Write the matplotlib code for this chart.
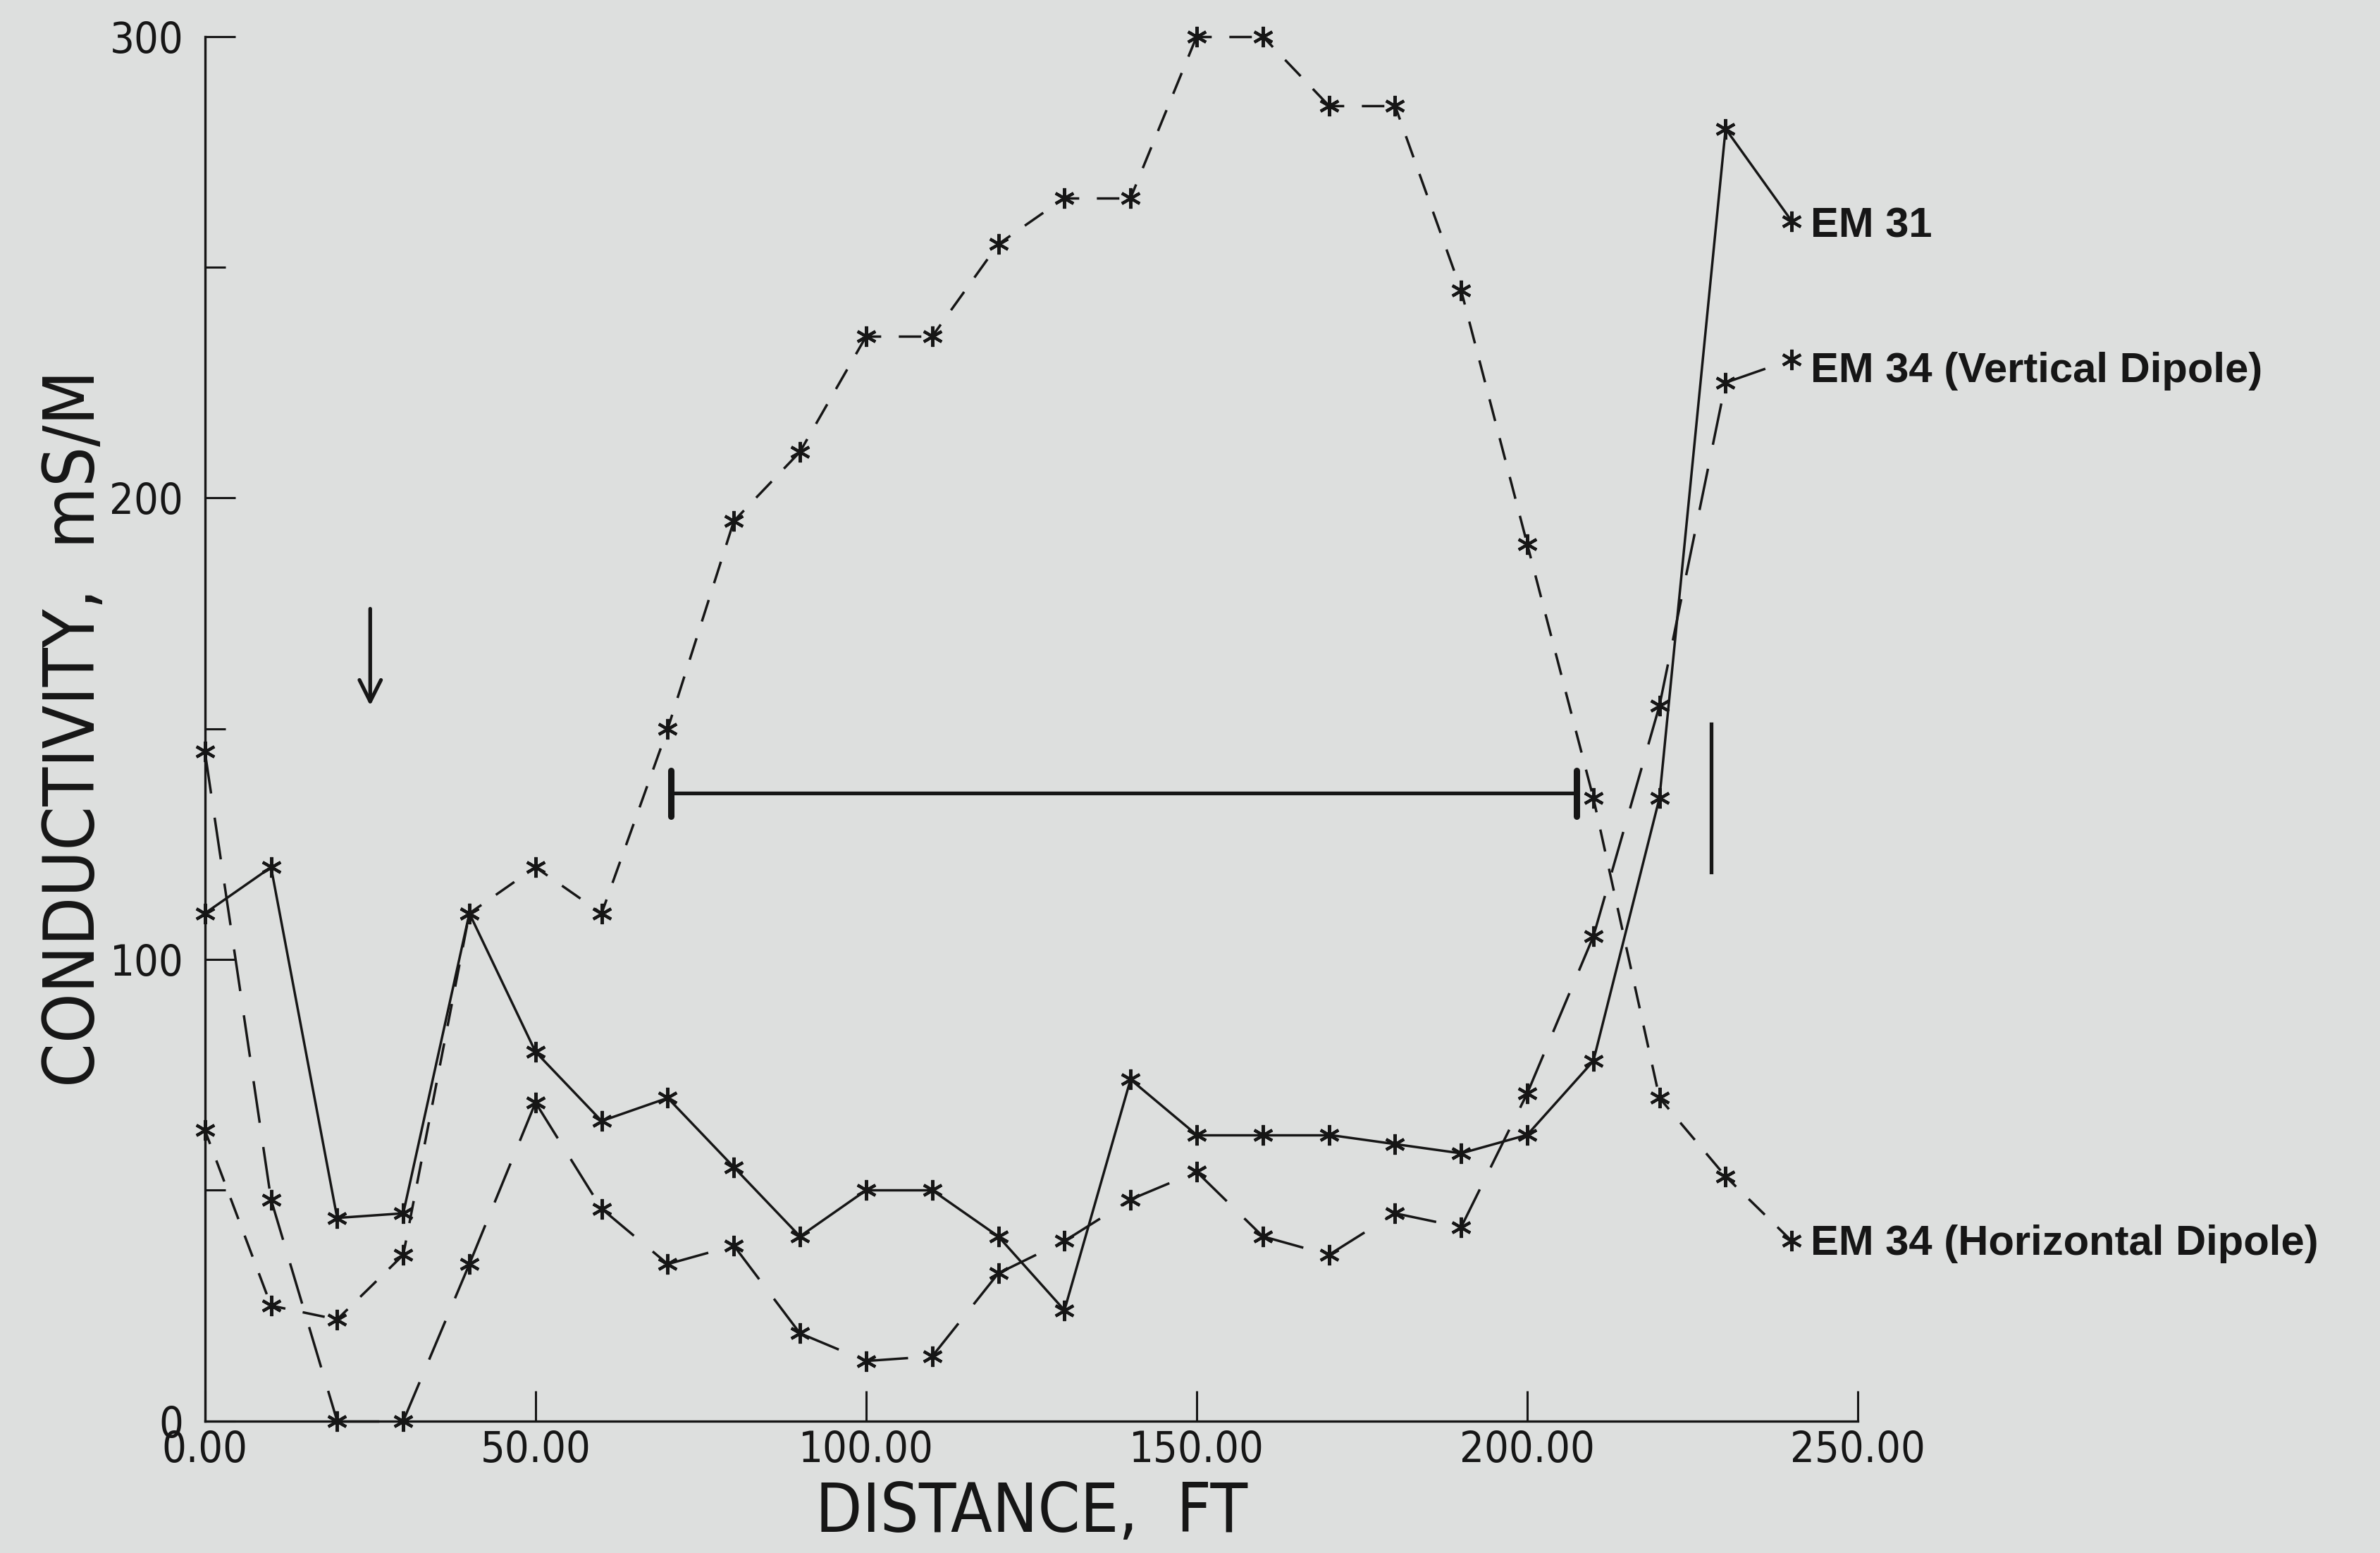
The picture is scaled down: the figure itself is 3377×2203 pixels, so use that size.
import matplotlib
matplotlib.use("Agg")
import matplotlib.pyplot as plt
from matplotlib import font_manager
from matplotlib.ticker import MultipleLocator

# distance along the line, ft
distance = [0, 10, 20, 30, 40, 50, 60, 70, 80, 90, 100, 110, 120,
            130, 140, 150, 160, 170, 180, 190, 200, 210, 220, 230, 240]

# conductivity, mS/M
em31 = [110, 120, 44, 45, 110, 80, 65, 70, 55, 40, 50, 50, 40,
        24, 74, 62, 62, 62, 60, 58, 62, 78, 135, 280, 260]
em34_vertical = [145, 48, 0, 0, 34, 69, 46, 34, 38, 19, 13, 14, 32,
                 39, 48, 54, 40, 36, 45, 42, 71, 105, 155, 225, 230]
em34_horizontal = [63, 25, 22, 36, 110, 120, 110, 150, 195, 210, 235, 235, 255,
                   265, 265, 300, 300, 285, 285, 245, 190, 135, 70, 53, 39]

labels = ["EM 31", "EM 34 (Vertical Dipole)", "EM 34 (Horizontal Dipole)"]

# extra marks drawn on the plot
arrow_x, arrow_top, arrow_tip = 25, 176, 155
bar_start, bar_end, bar_level = 70.5, 207.5, 136
vbar_x, vbar_low, vbar_high = 227.8, 119, 151

plt.rcParams['lines.scale_dashes'] = False
bg = '#dddfde'
ink = '#161616'
bold = ['Liberation Sans', 'DejaVu Sans']

# the scanned axis text is a narrow sans; use a condensed face if there is one
condensed = [f for f in font_manager.fontManager.ttflist
             if f.name == 'DejaVu Sans' and 'ondensed' in str(f.stretch) + f.fname
             and f.style == 'normal' and f.weight in (400, 'normal', 'book', 'regular')]
if condensed:
    thin = font_manager.FontProperties(fname=condensed[0].fname)
    shrink = 1.0
else:
    thin = font_manager.FontProperties(family='DejaVu Sans')
    shrink = 0.86

fig = plt.figure(figsize=(33.77, 22.03), dpi=100, facecolor=bg)
ax = fig.add_axes([0.0861, 0.085, 0.6945, 0.8915])
ax.set_facecolor(bg)

star = (6, 2, 0)
styles = [
    (em31, '-'),
    (em34_vertical, (0, (43, 25))),
    (em34_horizontal, (8, (23, 18))),
]

# each segment drawn on its own so the dash pattern restarts at every point
for values, ls in styles:
    for i in range(len(distance) - 1):
        ax.plot(distance[i:i + 2], values[i:i + 2], color=ink, lw=2.5,
                linestyle=ls, clip_on=False, solid_capstyle='butt')
    ax.plot(distance, values, linestyle='none', marker=star, ms=21,
            mew=3.0, color=ink, clip_on=False)

# series names at the end of each line
offsets = [(19, -5), (19, -12), (19, -3)]
for values, name, off in zip([em31, em34_vertical, em34_horizontal], labels, offsets):
    ax.annotate(name, xy=(distance[-1], values[-1]), xytext=off,
                textcoords='offset points', va='center', ha='left',
                fontsize=43, fontweight='bold', family=bold, color=ink,
                annotation_clip=False)

# arrow, anomaly span and the short vertical bar
ax.annotate('', xy=(arrow_x, arrow_tip), xytext=(arrow_x, arrow_top),
            arrowprops=dict(arrowstyle='->', lw=3.8, color=ink,
                            mutation_scale=55, shrinkA=0, shrinkB=0))
ax.plot([bar_start, bar_end], [bar_level, bar_level], color=ink, lw=3.8)
for xe in (bar_start, bar_end):
    ax.plot([xe, xe], [bar_level - 5, bar_level + 5], color=ink, lw=6.5,
            solid_capstyle='round')
ax.plot([vbar_x, vbar_x], [vbar_low, vbar_high], color=ink, lw=3.8)

ax.set_xlim(0, 250)
ax.set_ylim(0, 300)
ax.spines['top'].set_visible(False)
ax.spines['right'].set_visible(False)
for s in ('left', 'bottom'):
    ax.spines[s].set_linewidth(2.4)
    ax.spines[s].set_color(ink)

ax.yaxis.set_major_locator(MultipleLocator(100))
ax.yaxis.set_minor_locator(MultipleLocator(50))
ax.set_xticks(range(0, 251, 50))
ax.set_xticklabels(['%.2f' % t for t in range(0, 251, 50)])
ax.tick_params(axis='both', which='major', direction='in', length=31,
               width=2.2, color=ink, labelcolor=ink)
ax.tick_params(axis='y', which='minor', direction='in', length=21,
               width=2.2, color=ink)
ax.tick_params(axis='x', which='major', pad=9)
ax.tick_params(axis='y', which='major', pad=22)
for lab in ax.get_xticklabels() + ax.get_yticklabels():
    lab.set_fontproperties(thin)
    lab.set_fontsize(44 * shrink)

ax.set_xlabel('DISTANCE,  FT', fontproperties=thin, fontsize=69 * shrink, color=ink)
ax.set_ylabel('CONDUCTIVITY,  mS/M', fontproperties=thin, fontsize=72 * shrink, color=ink)
ax.xaxis.set_label_coords(0.5, -0.043)
ax.yaxis.set_label_coords(-0.058, 0.5)

fig.savefig('out.png', dpi=100, facecolor=bg)
